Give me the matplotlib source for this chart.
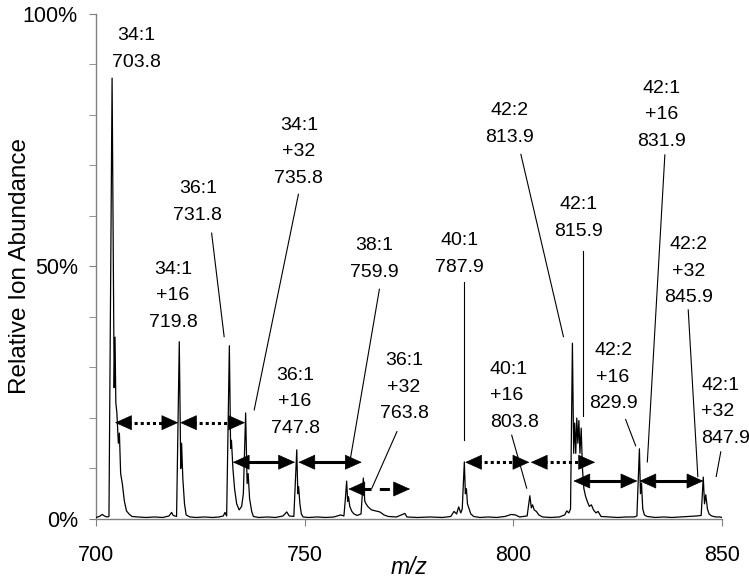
import matplotlib
matplotlib.use("Agg")
import matplotlib.pyplot as plt
from matplotlib.patches import ArrowStyle

plt.rcParams['font.family'] = ['Liberation Sans', 'DejaVu Sans']

# ---------------- data ----------------
spectrum_mz = [
    700.0, 700.8, 701.5, 702.0, 702.6, 703.1, 703.85, 704.35, 704.55, 704.75,
    705.0, 705.35, 705.6, 705.9, 706.3, 706.8, 707.3, 707.9, 708.6, 710.0,
    712.0, 714.0, 716.0, 717.5, 718.1, 718.5, 719.3, 719.95, 720.3, 720.5,
    720.8, 721.2, 721.6, 722.5, 724.0, 726.0, 728.0, 729.5, 730.5, 730.9,
    731.3, 731.95, 732.25, 732.45, 732.8, 733.2, 733.7, 734.3, 734.9, 735.3,
    735.85, 736.2, 736.45, 736.8, 737.3, 737.7, 739.0, 741.0, 743.0, 744.8,
    745.7, 746.3, 747.4, 748.1, 748.35, 748.55, 748.85, 749.2, 749.6, 751.0,
    753.0, 755.0, 757.0, 758.6, 759.4, 759.75, 760.05, 760.3, 760.5, 760.8,
    761.3, 761.8, 762.6, 763.5, 764.05, 764.4, 764.7, 765.2, 766.0, 767.0,
    768.0, 769.0, 770.0, 772.0, 774.0, 774.5, 777.0, 780.0, 783.0, 785.0,
    785.8, 786.4, 786.9, 787.4, 787.75, 788.25, 788.5, 788.75, 789.0, 789.4,
    789.8, 790.5, 792.0, 794.0, 796.0, 798.0, 799.5, 800.5, 801.5, 803.3,
    803.95, 804.3, 804.6, 805.0, 805.5, 806.1, 807.0, 809.0, 811.0, 812.3,
    812.8, 813.3, 813.7, 814.15, 814.45, 814.7, 814.95, 815.2, 815.45, 815.7,
    815.95, 816.25, 816.55, 816.9, 817.3, 817.7, 818.2, 818.7, 819.2, 819.8,
    820.3, 821.0, 823.0, 825.0, 827.0, 829.0, 829.6, 830.2, 830.45, 830.7,
    831.0, 831.4, 832.0, 834.0, 836.0, 838.0, 840.0, 842.0, 844.0, 845.0,
    845.5, 845.8, 846.1, 846.5, 846.9, 847.5, 848.5, 849.5, 850.0,
]
spectrum_abundance = [
    0.3, 0.5, 0.9, 0.6, 0.4, 0.5, 87.3, 26, 36, 23,
    21, 15, 17, 9, 7, 3.5, 1.6, 1.0, 0.5, 0.4,
    0.3, 0.4, 0.3, 0.6, 1.3, 0.7, 0.5, 35.1, 10, 15,
    8, 3, 0.8, 0.4, 0.3, 0.4, 0.3, 0.4, 0.6, 1.3,
    0.6, 34.3, 14, 15.6, 10, 6, 3, 1.8, 2.5, 5,
    21, 7, 9, 4, 1.5, 0.5, 0.3, 0.4, 0.3, 0.6,
    1.4, 0.6, 0.5, 13.7, 5, 6.4, 3, 1.0, 0.4, 0.3,
    0.4, 0.3, 0.4, 0.8, 0.6, 4, 7.5, 3.5, 4.4, 2.5,
    1.5, 1.0, 0.7, 1.0, 8.1, 3.5, 3.0, 2.4, 1.8, 1.6,
    1.4, 0.8, 0.5, 0.4, 1.1, 0.4, 0.3, 0.4, 0.3, 0.5,
    1.5, 1.0, 2.4, 1.2, 2.0, 11.3, 5, 6, 3, 2,
    1, 0.5, 0.3, 0.4, 0.3, 0.5, 0.9, 0.8, 0.4, 0.6,
    4.6, 2.2, 2.8, 1.8, 1.5, 0.8, 0.4, 0.3, 0.4, 0.8,
    1.6, 1.2, 2.0, 34.8, 13, 19, 13, 20, 15, 19.5,
    13, 18, 10, 6, 4.5, 3.5, 2.5, 2.8, 1.8, 1.2,
    1.5, 0.5, 0.4, 0.3, 0.4, 0.4, 0.6, 13.9, 5, 7.1,
    2, 0.8, 0.5, 0.3, 0.4, 0.3, 0.4, 0.5, 0.6, 0.7,
    8.3, 3, 4.8, 2, 1.0, 0.6, 0.4, 0.4, 0.3,
]

# peak labels: text, anchor (m/z, %), horizontal alignment
label_texts = [
    "34:1\n703.8", "34:1\n+16\n719.8", "36:1\n731.8", "34:1\n+32\n735.8",
    "36:1\n+16\n747.8", "38:1\n759.9", "36:1\n+32\n763.8", "40:1\n787.9",
    "42:2\n813.9", "42:1\n815.9", "42:1\n+16\n831.9", "42:2\n+32\n845.9",
    "40:1\n+16\n803.8", "42:2\n+16\n829.9", "42:1\n+32\n847.9",
]
label_mz = [709.6, 718.45, 724.4, 748.6, 747.7, 766.6, 773.8, 787.0,
            799.0, 815.7, 835.6, 841.9, 794.4, 823.9, 845.0]
label_pct = [93.1, 44.2, 62.8, 72.7, 23.2, 51.5, 26.1, 52.4,
             78.2, 59.6, 80.0, 49.1, 24.4, 28.1, 21.2]
label_ha = ["center"] * 12 + ["left", "center", "left"]

# leader lines: (m/z start, % start) -> (m/z end, % end)
leader_mz0 = [727.7, 748.5, 767.9, 772.1, 788.25, 801.8, 816.8, 836.3, 841.9, 799.6, 826.9, 849.7]
leader_pct0 = [56.6, 64.3, 45.5, 17.3, 47.0, 72.2, 53.1, 72.1, 41.4, 16.6, 19.7, 13.3]
leader_mz1 = [730.7, 737.9, 760.9, 766.1, 788.25, 812.0, 816.8, 832.1, 844.2, 803.2, 829.3, 848.6]
leader_pct1 = [36.1, 21.6, 11.7, 6.1, 15.6, 36.1, 20.3, 11.3, 8.4, 6.1, 14.5, 8.4]

# mass-shift arrows
arrow_mz0 = [704.55, 720.13, 732.76, 748.48, 760.46, 788.43, 804.17, 814.38, 830.2]
arrow_mz1 = [719.72, 735.71, 747.69, 763.67, 775.25, 803.84, 819.58, 829.72, 845.54]
arrow_pct = [19.07, 19.07, 11.24, 11.24, 5.94, 11.23, 11.23, 7.52, 7.52]
arrow_style = ["dotted", "dotted", "solid", "solid", "dashed", "dotted", "dotted", "solid", "solid"]

x_ticks = [700, 750, 800, 850]
y_major = [0, 50, 100]
y_minor = [10, 20, 30, 40, 60, 70, 80, 90]
y_tick_labels = ["0%", "50%", "100%"]

# ---------------- figure ----------------
fig = plt.figure(figsize=(7.49, 5.83), dpi=100)
ax = fig.add_axes([0.1282, 0.1098, 0.8358, 0.8662])

ax.plot(spectrum_mz, spectrum_abundance, color="black", lw=0.9, zorder=3)

ax.set_xlim(700, 850)
ax.set_ylim(0, 100)

for s in ["top", "right"]:
    ax.spines[s].set_visible(False)
for s in ["left", "bottom"]:
    ax.spines[s].set_color("#808080")
    ax.spines[s].set_linewidth(1.0)

ax.set_xticks(x_ticks)
ax.set_xticklabels([str(t) for t in x_ticks])
ax.set_yticks(y_major)
ax.set_yticklabels(y_tick_labels)
ax.set_yticks(y_minor, minor=True)
ax.tick_params(axis="x", direction="out", length=5, color="#808080", labelsize=15.5, pad=14)
ax.tick_params(axis="y", which="both", direction="out", length=5, color="#808080",
               labelsize=15.5, pad=8)

ax.set_xlabel("m/z", fontsize=16.5, style="italic")
ax.xaxis.set_label_coords(0.5, -0.074)
ax.set_ylabel("Relative Ion Abundance", fontsize=17.5)
ax.yaxis.set_label_coords(-0.104, 0.5)

for t, x, y, ha in zip(label_texts, label_mz, label_pct, label_ha):
    ax.text(x, y, t, ha=ha, va="center", fontsize=14, linespacing=1.75,
            multialignment=ha, zorder=4)

for x0, y0, x1, y1 in zip(leader_mz0, leader_pct0, leader_mz1, leader_pct1):
    ax.plot([x0, x1], [y0, y1], color="black", lw=0.8, zorder=4)

# arrows: shaft drawn with its line style, solid filled heads at both ends
style_map = {"dotted": (0, (1.0, 1.0)), "solid": "solid", "dashed": (0, (3.3, 2.7))}
head_len = 3.4  # m/z units
head = ArrowStyle("-|>", head_length=0.8, head_width=0.36)
for x0, x1, y, st in zip(arrow_mz0, arrow_mz1, arrow_pct, arrow_style):
    ax.plot([x0 + head_len * 0.9, x1 - head_len * 0.9], [y, y], color="black", lw=2.2,
            linestyle=style_map[st], zorder=5, solid_capstyle="butt", dash_capstyle="butt")
    for tip, back in ((x1, x1 - head_len), (x0, x0 + head_len)):
        ax.annotate("", xy=(tip, y), xytext=(back, y),
                    arrowprops=dict(arrowstyle=head, mutation_scale=14, shrinkA=0, shrinkB=0,
                                    lw=0.5, color="black"),
                    zorder=5)

fig.savefig("out.png", dpi=100)
